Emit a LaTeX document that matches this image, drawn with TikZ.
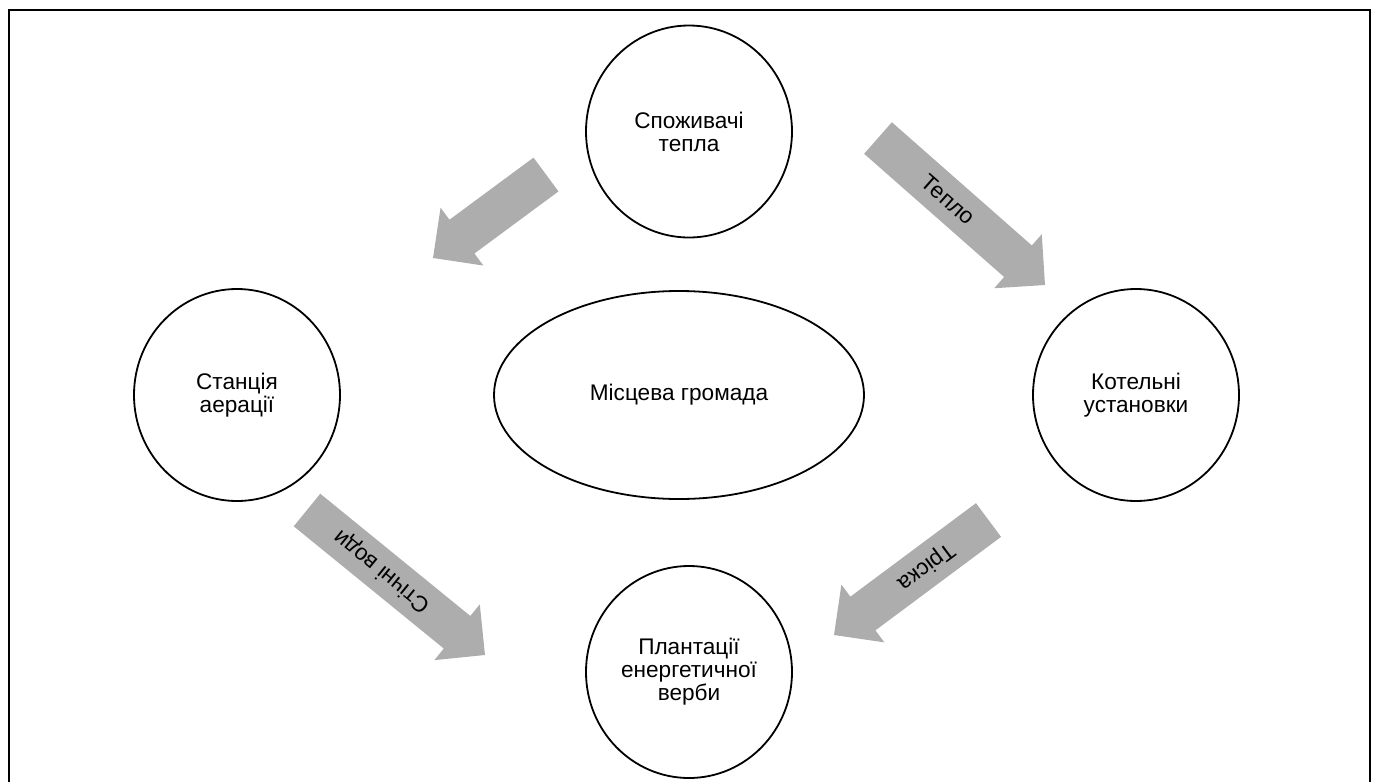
\documentclass[tikz,border=0pt]{standalone}
\usepackage{fontspec}
\setmainfont{Liberation Sans}
\usetikzlibrary{shapes.geometric}
\definecolor{arrowgray}{RGB}{173,173,173}
\tikzset{
  circnode/.style={draw=black, line width=1.8pt, ellipse, minimum width=206pt, minimum height=212pt, inner sep=0pt, align=center, font=\fontsize{22.6}{23}\selectfont},
  ellnode/.style={draw=black, line width=1.8pt, ellipse, minimum width=370pt, minimum height=208pt, inner sep=0pt, align=center, font=\fontsize{22.6}{23}\selectfont},
  arrlabel/.style={inner sep=0pt, font=\fontsize{22.6}{23}\selectfont},
  framelines/.style={draw=black, line width=2pt}
}
\newcommand\blockarr[7]{%
  \pgfmathsetmacro\bdx{#4-#2}%
  \pgfmathsetmacro\bdy{#5-#3}%
  \pgfmathsetmacro\blen{veclen(\bdx,\bdy)}%
  \pgfmathsetmacro\bang{atan2(-\bdy,\bdx)}%
  \pgfmathsetmacro\brot{\bang+#6}%
  \begin{scope}[shift={(#2,#3)},rotate=\bang]
    \fill[arrowgray] (0,21) -- ({\blen-36},21) -- ({\blen-36},36) -- (\blen,0)
      -- ({\blen-36},-36) -- ({\blen-36},-21) -- (0,-21) -- cycle;
    \node[arrlabel, rotate=\brot] (#1) at ({(\blen-36)/2},0) {#7};
  \end{scope}}
\begin{document}
\begin{tikzpicture}[x=1pt,y=-1pt]
  \useasboundingbox (0,0) rectangle (1373,782);
  \coordinate (fbl) at (8.5,782);
  \coordinate (ftl) at (8.5,9.5);
  \coordinate (ftr) at (1369.5,9.5);
  \coordinate (fbr) at (1369.5,782);
  \draw[framelines] (fbl) -- (ftl) -- (ftr) -- (fbr);

  \node[circnode] (consumers) at (689,131.5) {Споживачі\\тепла};
  \node[circnode] (aeration) at (237,395) {Станція\\аерації};
  \node[circnode] (boilers) at (1136,395) {Котельні\\установки};
  \node[circnode] (willow) at (689,672) {Плантації\\енергетичної\\верби};
  \node[ellnode] (community) at (679,395) {Місцева громада};

  \blockarr{lblA}{546}{174.5}{433}{258}{0}{}
  \blockarr{lblB}{878}{138}{1045}{285}{0}{Тепло}
  \blockarr{lblC}{307}{510}{485}{655}{180}{Стічні води}
  \blockarr{lblD}{988.5}{520}{834}{635}{0}{Тріска}
\end{tikzpicture}
\end{document}
